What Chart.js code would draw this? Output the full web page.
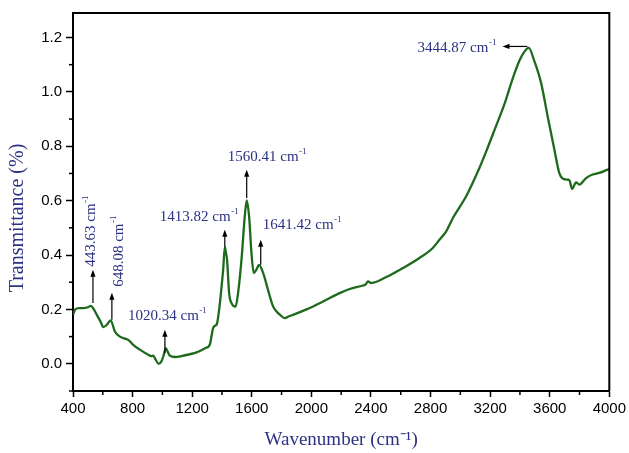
<!DOCTYPE html>
<html>
<head>
<meta charset="utf-8">
<script src="https://cdn.jsdelivr.net/npm/chart.js@4.4.1/dist/chart.umd.min.js"></script>
<style>
    html, body { margin: 0; padding: 0; background: #ffffff; }
</style>
</head>
<body>
<canvas id="ftirChart" width="629" height="453"></canvas>
<script>
"use strict";

// FTIR spectrum
var wavenumbers = [
    400, 415, 440, 470, 500, 520, 540, 560, 585, 603, 626, 653, 681, 715, 771, 804, 849, 905, 925, 938,
    955, 975, 995, 1010, 1023, 1035, 1050, 1084, 1140, 1229, 1290, 1318, 1340, 1352, 1365, 1386, 1400,
    1408, 1419, 1426, 1434, 1448, 1464, 1491, 1508, 1531, 1553, 1566, 1582, 1598, 1613, 1631, 1649,
    1676, 1709, 1743, 1765, 1790, 1821, 1850, 1877, 1967, 2078, 2190, 2257, 2346, 2365, 2380, 2402,
    2503, 2614, 2726, 2815, 2860, 2905, 2939, 2950, 3039, 3128, 3173, 3240, 3296, 3352, 3397, 3430,
    3459, 3497, 3542, 3586, 3631, 3665, 3683, 3720, 3732, 3750, 3777, 3799, 3844, 3888, 3933, 3989, 4000
];
var transmittance = [
    0.180, 0.200, 0.205, 0.205, 0.208, 0.213, 0.200, 0.180, 0.155, 0.135, 0.143, 0.160, 0.119, 0.100, 0.088, 0.070, 0.052, 0.033, 0.028, 0.030,
    0.015, 0.000, 0.010, 0.035, 0.058, 0.045, 0.030, 0.025, 0.030, 0.042, 0.058, 0.070, 0.130, 0.140, 0.145, 0.223, 0.300,
    0.346, 0.430, 0.410, 0.383, 0.260, 0.223, 0.210, 0.260, 0.383, 0.542, 0.601, 0.542, 0.407, 0.334, 0.346, 0.364,
    0.334, 0.272, 0.211, 0.193, 0.180, 0.168, 0.175, 0.180, 0.200, 0.229, 0.260, 0.275, 0.288, 0.292, 0.303, 0.297,
    0.319, 0.352, 0.389, 0.426, 0.456, 0.487, 0.524, 0.536, 0.616, 0.720, 0.780, 0.875, 0.955, 1.050, 1.115, 1.148,
    1.162, 1.113, 1.033, 0.910, 0.788, 0.700, 0.683, 0.677, 0.675, 0.643, 0.667, 0.659, 0.683, 0.696, 0.702, 0.714, 0.716
];

var xTickValues = [400, 600, 800, 1000, 1200, 1400, 1600, 1800, 2000, 2200, 2400, 2600, 2800, 3000, 3200, 3400, 3600, 3800, 4000];
var xTickLabels = ["400", "800", "1200", "1600", "2000", "2400", "2800", "3200", "3600", "4000"];
var yTickValues = [-0.1, 0.0, 0.1, 0.2, 0.3, 0.4, 0.5, 0.6, 0.7, 0.8, 0.9, 1.0, 1.1, 1.2];
var yTickLabels = ["0.0", "0.2", "0.4", "0.6", "0.8", "1.0", "1.2"];

// peak notes: label text, text anchor (data units), arrow from -> to (data units)
var peakNames = ["443.63", "648.08", "1020.34", "1413.82", "1560.41", "1641.42", "3444.87"];
var peakNotes = [
    { text: 0, tx: 548, ty: 0.357, rotate: true,  ax: [534, 0.224, 534, 0.346] },
    { text: 1, tx: 736, ty: 0.283, rotate: true,  ax: [661, 0.162, 661, 0.261] },
    { text: 2, tx: 769, ty: 0.162, rotate: false, ax: [1017, 0.040, 1017, 0.125] },
    { text: 3, tx: 983, ty: 0.526, rotate: false, ax: [1419, 0.430, 1419, 0.493] },
    { text: 4, tx: 1439, ty: 0.747, rotate: false, ax: [1566, 0.610, 1566, 0.714] },
    { text: 5, tx: 1674, ty: 0.497, rotate: false, ax: [1660, 0.364, 1660, 0.456] },
    { text: 6, tx: 2713, ty: 1.148, rotate: false, ax: [3450, 1.167, 3283, 1.167] }
];

var NOTE_COLOR = "#2c3183";
var SERIF      = "'Liberation Serif', 'Times New Roman', serif";
var SANS       = "'Liberation Sans', Arial, sans-serif";

function isMajorX(v) { return xTickLabels.indexOf(String(v)) !== -1; }
function isMajorY(v) { return yTickLabels.indexOf(v.toFixed(1)) !== -1; }

function drawArrow(ctx, x1, y1, x2, y2)
{
    var ang = Math.atan2(y2 - y1, x2 - x1);
    ctx.beginPath();
    ctx.moveTo(x1, y1);
    ctx.lineTo(x2 - 5 * Math.cos(ang), y2 - 5 * Math.sin(ang));
    ctx.stroke();
    ctx.beginPath();
    ctx.moveTo(x2, y2);
    ctx.lineTo(x2 - 7 * Math.cos(ang) + 2.6 * Math.sin(ang), y2 - 7 * Math.sin(ang) - 2.6 * Math.cos(ang));
    ctx.lineTo(x2 - 7 * Math.cos(ang) - 2.6 * Math.sin(ang), y2 - 7 * Math.sin(ang) + 2.6 * Math.cos(ang));
    ctx.closePath();
    ctx.fill();
}

function drawNote(ctx, label, x, y, rotate)
{
    ctx.save();
    ctx.translate(x, y);
    if (rotate) ctx.rotate(-Math.PI / 2);
    ctx.fillStyle    = NOTE_COLOR;
    ctx.textAlign    = "left";
    ctx.textBaseline = "alphabetic";
    ctx.font         = "15px " + SERIF;
    var main = label + " cm";
    ctx.fillText(main, 0, 0);
    var w = ctx.measureText(main).width;
    ctx.font = "9px " + SERIF;
    ctx.fillText("-1", w + 0.5, -7);
    ctx.restore();
}

var spectrumDecor = {
    id: "spectrumDecor",
    afterDraw: function (chart)
    {
        var ctx = chart.ctx;
        var xs  = chart.scales.x;
        var ys  = chart.scales.y;
        var a   = chart.chartArea;

        ctx.save();
        // frame top and right
        ctx.strokeStyle = "#000000";
        ctx.lineWidth   = 2;
        ctx.beginPath();
        ctx.moveTo(a.left, a.top);
        ctx.lineTo(a.right, a.top);
        ctx.lineTo(a.right, a.bottom);
        ctx.stroke();

        // minor ticks
        ctx.lineWidth = 1.5;
        xTickValues.forEach(function (v)
        {
            if (isMajorX(v)) return;
            var px = xs.getPixelForValue(v);
            ctx.beginPath();
            ctx.moveTo(px, a.bottom);
            ctx.lineTo(px, a.bottom + 4);
            ctx.stroke();
        });
        yTickValues.forEach(function (v)
        {
            if (isMajorY(v)) return;
            var py = ys.getPixelForValue(v);
            ctx.beginPath();
            ctx.moveTo(a.left, py);
            ctx.lineTo(a.left - 4, py);
            ctx.stroke();
        });

        // y title, sits a bit below the middle of the axis
        ctx.save();
        ctx.translate(18, 218);
        ctx.rotate(-Math.PI / 2);
        ctx.fillStyle    = NOTE_COLOR;
        ctx.font         = "20px " + SERIF;
        ctx.textAlign    = "center";
        ctx.textBaseline = "middle";
        ctx.fillText("Transmittance (%)", 0, 0);
        ctx.restore();

        // peak arrows and labels
        ctx.strokeStyle = "#000000";
        ctx.fillStyle   = "#000000";
        ctx.lineWidth   = 1.2;
        peakNotes.forEach(function (n)
        {
            drawArrow(ctx,
                xs.getPixelForValue(n.ax[0]), ys.getPixelForValue(n.ax[1]),
                xs.getPixelForValue(n.ax[2]), ys.getPixelForValue(n.ax[3]));
            drawNote(ctx, peakNames[n.text], xs.getPixelForValue(n.tx), ys.getPixelForValue(n.ty), n.rotate);
        });
        ctx.restore();
    }
};

var points = [];
for (var i = 0; i < wavenumbers.length; i++)
{
    points.push({ x: wavenumbers[i], y: transmittance[i] });
}

new Chart(document.getElementById("ftirChart"), {
    type:    "line",
    data:    {
        datasets: [
            {
                data:                   points,
                borderColor:            "#1d6a1d",
                borderWidth:            2.3,
                pointRadius:            0,
                fill:                   false,
                cubicInterpolationMode: "monotone"
            }
        ]
    },
    options: {
        responsive: false,
        animation:  false,
        layout:     { padding: { top: 13, right: 19, left: 0, bottom: 0 } },
        plugins:    {
            legend:  { display: false },
            tooltip: { enabled: false }
        },
        scales:     {
            x: {
                type:            "linear",
                min:             400,
                max:             4000,
                afterBuildTicks: function (scale) { scale.ticks = xTickValues.map(function (v) { return { value: v }; }); },
                afterFit:        function (scale) { scale.height = 62; },
                border:          { display: true, color: "#000000", width: 2 },
                grid:            {
                    drawOnChartArea: false,
                    tickLength:      6,
                    tickWidth:       1.5,
                    tickColor:       function (c) { return isMajorX(c.tick.value) ? "#000000" : "rgba(0,0,0,0)"; }
                },
                ticks:           {
                    autoSkip:    false,
                    maxRotation: 0,
                    padding:     3,
                    color:       "#000000",
                    font:        { family: SANS, size: 15 },
                    callback:    function (v) { return isMajorX(v) ? String(v) : ""; }
                },
                title:           {
                    display: true,
                    text:    "Wavenumber (cm\u207B\u00B9)",
                    color:   NOTE_COLOR,
                    font:    { family: SERIF, size: 19 },
                    padding: { top: 0, bottom: 2 }
                }
            },
            y: {
                type:            "linear",
                min:             -0.1,
                max:             1.29,
                afterBuildTicks: function (scale) { scale.ticks = yTickValues.map(function (v) { return { value: v }; }); },
                afterFit:        function (scale) { scale.width = 73; },
                border:          { display: true, color: "#000000", width: 2 },
                grid:            {
                    drawOnChartArea: false,
                    tickLength:      7,
                    tickWidth:       1.5,
                    tickColor:       function (c) { return isMajorY(c.tick.value) ? "#000000" : "rgba(0,0,0,0)"; }
                },
                ticks:           {
                    autoSkip: false,
                    padding:  4,
                    color:    "#000000",
                    font:     { family: SANS, size: 15 },
                    callback: function (v) { return isMajorY(v) ? v.toFixed(1) : ""; }
                }
            }
        }
    },
    plugins: [spectrumDecor]
});
</script>
</body>
</html>
